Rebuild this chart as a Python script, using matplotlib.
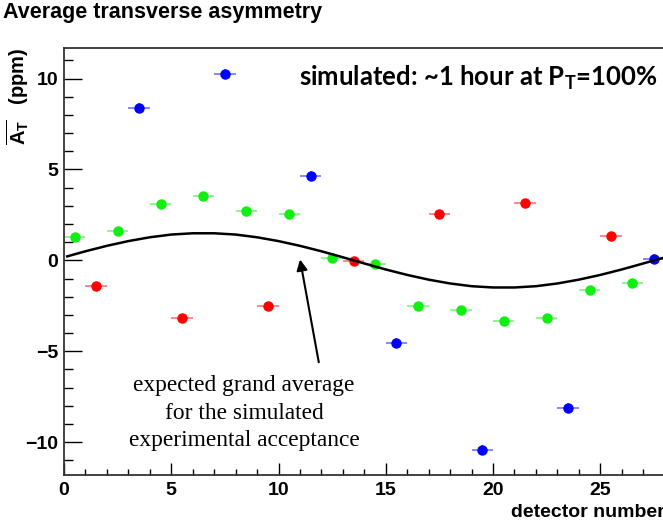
import matplotlib
matplotlib.use("Agg")
import matplotlib.pyplot as plt
from matplotlib.ticker import MultipleLocator

plt.rcParams['font.family'] = ['Liberation Sans', 'DejaVu Sans']
plt.rcParams['mathtext.fontset'] = 'custom'
plt.rcParams['mathtext.rm'] = 'Liberation Sans'
plt.rcParams['mathtext.bf'] = 'Liberation Sans:bold'

# detector readings, grouped by colour
green_x = [0.5, 2.5, 4.5, 6.5, 8.5, 10.5, 12.5, 14.5, 16.5, 18.5, 20.5, 22.5, 24.5, 26.5]
green_y = [1.28, 1.63, 3.11, 3.55, 2.71, 2.53, 0.15, -0.18, -2.51, -2.71, -3.35, -3.19, -1.65, -1.23]
red_x = [1.5, 5.5, 9.5, 13.5, 17.5, 21.5, 25.5]
red_y = [-1.43, -3.17, -2.49, -0.02, 2.53, 3.13, 1.36]
blue_x = [3.5, 7.5, 11.5, 15.5, 19.5, 23.5, 27.5]
blue_y = [8.37, 10.24, 4.62, -4.56, -10.44, -8.13, 0.09]

# expected grand average
curve_x = [0.15, 1, 2, 3, 4, 5, 6, 7, 8, 9, 10, 11, 12, 13, 14, 15, 16, 17, 18, 19, 20,
           21, 22, 23, 24, 25, 26, 27, 27.9]
curve_y = [0.22, 0.50, 0.80, 1.06, 1.27, 1.42, 1.49, 1.49, 1.42, 1.27, 1.06, 0.80, 0.50, 0.17,
           -0.17, -0.50, -0.80, -1.06, -1.27, -1.42, -1.49, -1.49, -1.42, -1.27, -1.06, -0.80,
           -0.50, -0.17, 0.13]

fig = plt.figure(figsize=(6.63, 5.27), dpi=100)
ax = fig.add_axes([0.0965, 0.0987, 0.906, 0.811])


# draw one colour group with its error bars
def draw_group(xs, ys, color, yerr):
    ax.errorbar(xs, ys, xerr=0.5, yerr=yerr, fmt='none', ecolor=color, elinewidth=1.2, alpha=0.55, zorder=2)
    ax.plot(xs, ys, 'o', color=color, markersize=6.5, zorder=3)


draw_group(green_x, green_y, '#11ee11', 0.08)
draw_group(red_x, red_y, '#ff0000', 0.08)
draw_group(blue_x, blue_y, '#0000ff', 0.27)

ax.plot(curve_x, curve_y, color='black', lw=1.8, zorder=4)

ax.set_xlim(0, 28)
ax.set_ylim(-11.8, 11.7)
ax.xaxis.set_major_locator(MultipleLocator(5))
ax.xaxis.set_minor_locator(MultipleLocator(1))
ax.yaxis.set_major_locator(MultipleLocator(5))
ax.yaxis.set_minor_locator(MultipleLocator(1))
ax.tick_params(axis='both', which='both', direction='in', top=False, right=False, color='black')
ax.tick_params(axis='y', which='major', length=13, width=1.0, pad=4)
ax.tick_params(axis='y', which='minor', length=6.5, width=1.0)
ax.tick_params(axis='x', which='major', length=8.5, width=1.0, pad=5)
ax.tick_params(axis='x', which='minor', length=4.3, width=1.0)
for lab in ax.get_xticklabels() + ax.get_yticklabels():
    lab.set_fontsize(14)
    lab.set_fontweight('bold')
for s in ax.spines.values():
    s.set_linewidth(1.3)
    s.set_color('#333333')

# axis titles, ROOT style
ax.text(-0.078, 1.0, r'$\overline{\mathbf{A}_{\mathbf{T}}}$   (ppm)', transform=ax.transAxes,
        rotation=90, ha='center', va='top', fontsize=14.5, fontweight='bold')
ax.text(1.0, -0.068, 'detector number', transform=ax.transAxes, ha='right', va='top',
        fontsize=14, fontweight='bold')
fig.text(0.004, 0.977, 'Average transverse asymmetry', ha='left', va='center',
         fontsize=15.5, fontweight='bold')

ax.text(0.988, 0.93, r'simulated: ~1 hour at P$_{\mathregular{T}}$=100%', transform=ax.transAxes,
        ha='right', va='center', fontsize=18.5, fontweight='bold', family=['Lato', 'DejaVu Sans'])

ax.annotate('', xy=(10.98, 0.2), xytext=(11.9, -5.75),
            arrowprops=dict(arrowstyle='-|>', color='black', lw=1.5, mutation_scale=16))
ax.text(8.4, -8.4, 'expected grand average\nfor the simulated\nexperimental acceptance',
        ha='center', va='center', fontsize=16.8, family=['Liberation Serif', 'DejaVu Serif'],
        linespacing=1.42)

fig.savefig('out.png', dpi=100)
